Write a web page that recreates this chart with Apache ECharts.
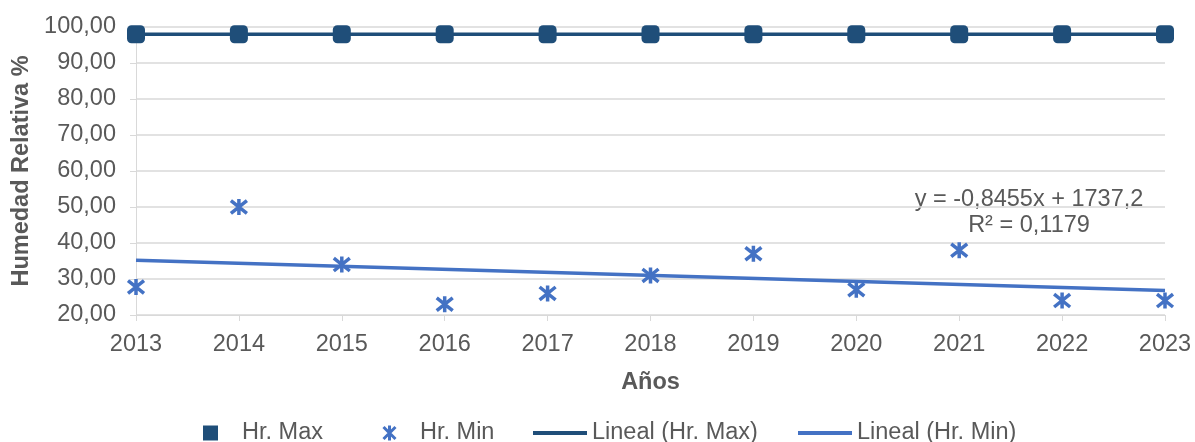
<!DOCTYPE html>
<html>
<head>
<meta charset="utf-8">
<script src="https://cdn.jsdelivr.net/npm/echarts@6/dist/echarts.min.js"></script>
<style>
  html, body { margin: 0; padding: 0; background: #fff; }
  #chart { width: 1195px; height: 442px; }
</style>
</head>
<body>
<div id="chart"></div>
<script>
const years = ['2013', '2014', '2015', '2016', '2017', '2018', '2019', '2020', '2021', '2022', '2023']
const hrMax = [98, 98, 98, 98, 98, 98, 98, 98, 98, 98, 98]
const hrMin = [27.8, 50, 34, 23, 26, 31, 37, 27, 38, 24, 24]
// trend line end values (2013, 2023)
const trendMax = [98, 98]
const trendMin = [35.2, 26.8]
const trendLabel = ['y = -0,8455x + 1737,2', 'R² = 0,1179']

const darkBlue = '#1F4E79'
const lightBlue = '#4472C4'
const textColor = '#595959'
const font = 'Liberation Sans, Arial, sans-serif'
const fs = 23.5
const star = 'path://M1,1 L9,9 M9,1 L1,9 M5,0 L5,10'

const chart = echarts.init(document.getElementById('chart'))

const legendText = (pad) => ({ fontSize: fs, color: textColor, fontFamily: font, padding: [0, 0, 0, pad] })

const option = {
  animation: false,
  textStyle: { fontFamily: font },
  grid: { left: 136, right: 30, top: 27, bottom: 127, containLabel: false, outerBoundsMode: 'none' },
  legend: [
    {
      data: [{ name: 'Hr. Max', icon: 'rect' }],
      left: 203, top: 421, padding: 0,
      itemWidth: 15, itemHeight: 15,
      textStyle: legendText(19)
    },
    {
      data: [{ name: 'Hr. Min', icon: star, itemStyle: { color: 'rgba(0,0,0,0)', borderColor: lightBlue, borderWidth: 3 } }],
      left: 382, top: 421, padding: 0,
      itemWidth: 15, itemHeight: 15,
      textStyle: legendText(18)
    },
    {
      data: [{ name: 'Lineal (Hr. Max)', icon: 'rect' }],
      left: 533, top: 421, padding: 0,
      itemWidth: 54, itemHeight: 4,
      textStyle: legendText(0)
    },
    {
      data: [{ name: 'Lineal (Hr. Min)', icon: 'rect' }],
      left: 798, top: 421, padding: 0,
      itemWidth: 54, itemHeight: 4,
      textStyle: legendText(0)
    }
  ],
  xAxis: {
    type: 'category',
    data: years,
    boundaryGap: false,
    name: 'Años',
    nameLocation: 'middle',
    nameGap: 56,
    nameTextStyle: { fontSize: fs, fontWeight: 'bold', color: textColor },
    axisLine: { lineStyle: { color: '#d9d9d9', width: 1 } },
    axisTick: { show: true, length: 6, lineStyle: { color: '#d9d9d9' } },
    axisLabel: { fontSize: fs, color: textColor, margin: 18 },
    splitLine: { show: false }
  },
  yAxis: {
    type: 'value',
    min: 20, max: 100, interval: 10,
    name: 'Humedad Relativa %',
    nameLocation: 'middle',
    nameGap: 101,
    nameTextStyle: { fontSize: fs, fontWeight: 'bold', color: textColor },
    axisLine: { show: true, lineStyle: { color: '#d9d9d9', width: 1 } },
    axisTick: { show: true, length: 6, lineStyle: { color: '#d9d9d9' } },
    axisLabel: {
      fontSize: fs, color: textColor, margin: 20,
      formatter: v => v.toFixed(2).replace('.', ',')
    },
    splitLine: { lineStyle: { color: '#d9d9d9', width: 1.5 } }
  },
  series: [
    {
      name: 'Lineal (Hr. Max)',
      type: 'line',
      data: [[years[0], trendMax[0]], [years[years.length - 1], trendMax[1]]],
      symbol: 'none',
      lineStyle: { color: darkBlue, width: 3.5 },
      itemStyle: { color: darkBlue },
      z: 2
    },
    {
      name: 'Lineal (Hr. Min)',
      type: 'line',
      data: [[years[0], trendMin[0]], [years[years.length - 1], trendMin[1]]],
      symbol: 'none',
      lineStyle: { color: lightBlue, width: 3.5 },
      itemStyle: { color: lightBlue },
      z: 2
    },
    {
      name: 'Hr. Max',
      type: 'scatter',
      data: hrMax,
      symbol: 'roundRect',
      symbolSize: 18,
      itemStyle: { color: darkBlue, opacity: 1 },
      z: 3
    },
    {
      name: 'Hr. Min',
      type: 'scatter',
      data: hrMin,
      symbol: star,
      symbolSize: 16,
      itemStyle: { color: 'rgba(0,0,0,0)', borderColor: lightBlue, borderWidth: 3.5, opacity: 1 },
      z: 3
    }
  ],
  graphic: [
    {
      type: 'text',
      x: 1029, y: 200,
      style: { text: trendLabel[0], fill: textColor, font: fs + 'px ' + font, align: 'center', verticalAlign: 'middle' }
    },
    {
      type: 'text',
      x: 1029, y: 226,
      style: { text: trendLabel[1], fill: textColor, font: fs + 'px ' + font, align: 'center', verticalAlign: 'middle' }
    }
  ]
}

chart.setOption(option)
</script>
</body>
</html>
